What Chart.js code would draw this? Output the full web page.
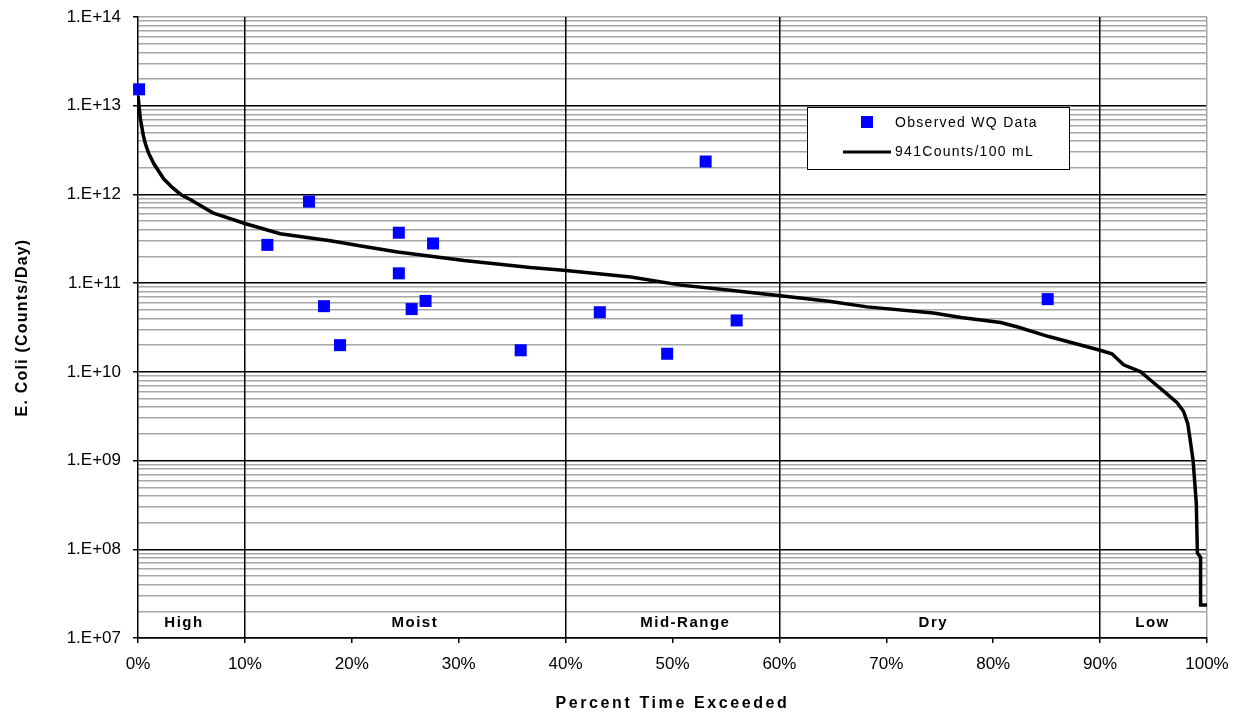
<!DOCTYPE html>
<html lang="en">
<head>
<meta charset="UTF-8">
<title>E. Coli Load Duration Curve</title>
<script src="https://cdn.jsdelivr.net/npm/chart.js"></script>
<style>
  body { margin: 0; background: #fff; }
</style>
</head>
<body>
<canvas id="ldc" width="1238" height="717"></canvas>
<script>
  // load duration curve at 941 counts/100 mL
  const curvePct = [0, 0.1, 0.2, 0.5, 0.7, 1.0, 1.5, 2.4, 3.2, 4.0, 5.0, 7.0, 10.0, 13.3, 18.0, 21.0,
    24.3, 30.5, 36.7, 39.8, 46.1, 50.8, 55.4, 60.1, 64.8, 68.2, 74.4, 77.0, 80.7, 82.3, 85.2,
    90.0, 91.1, 92.2, 93.8, 94.7, 96.0, 97.2, 97.8, 98.2, 98.4, 98.7, 99.0, 99.1, 99.4, 99.4, 100];
  const curveLoad = [1.3e13, 1.0e13, 7.4e12, 4.6e12, 3.7e12, 2.9e12, 2.2e12, 1.5e12, 1.2e12, 1.0e12, 8.6e11, 6.2e11, 4.7e11, 3.6e11, 3.0e11, 2.6e11,
    2.25e11, 1.8e11, 1.5e11, 1.4e11, 1.17e11, 9.5e10, 8.3e10, 7.2e10, 6.2e10, 5.4e10, 4.6e10, 4.1e10, 3.6e10, 3.2e10, 2.5e10,
    1.75e10, 1.6e10, 1.2e10, 1.0e10, 8.1e9, 6.0e9, 4.5e9, 3.6e9, 2.6e9, 1.8e9, 1.0e9, 3.3e8, 9.1e7, 8.1e7, 2.35e7, 2.35e7];

  // observed water quality samples
  const obsPct = [0.1, 12.1, 16.0, 17.4, 18.9, 24.4, 24.4, 25.6, 26.9, 27.6, 35.8, 43.2, 49.5, 53.1, 56.0, 85.1];
  const obsLoad = [1.53e13, 2.7e11, 8.3e11, 5.5e10, 2.0e10, 3.7e11, 1.29e11, 5.1e10, 6.3e10, 2.8e11, 1.75e10, 4.7e10, 1.6e10, 2.35e12, 3.8e10, 6.6e10];

  const seriesNames = ['Observed WQ Data', '941Counts/100 mL'];
  const zoneNames = ['High', 'Moist', 'Mid-Range', 'Dry', 'Low'];
  const zoneLabelPct = [4.3, 25.9, 51.2, 74.4, 94.9];
  const zoneBreaks = [10, 40, 60, 90];
  const yDecades = [1e7, 1e8, 1e9, 1e10, 1e11, 1e12, 1e13, 1e14];
  const yTickLabels = ['1.E+07', '1.E+08', '1.E+09', '1.E+10', '1.E+11', '1.E+12', '1.E+13', '1.E+14'];
  const xTitle = 'Percent Time Exceeded';
  const yTitle = 'E. Coli (Counts/Day)';

  const FONT = "Arial, 'Liberation Sans', sans-serif";
  const GRAY = '#a6a6a6';

  function isDecade(v) {
    return yDecades.some(d => Math.abs(v / d - 1) < 1e-9);
  }

  // zone names, legend box and axis titles
  const extras = {
    id: 'extras',
    afterDatasetsDraw(chart) {
      const { ctx, chartArea: ca, scales: { x } } = chart;
      ctx.save();
      ctx.fillStyle = '#000';
      ctx.textBaseline = 'middle';

      ctx.font = 'bold 15px ' + FONT;
      ctx.letterSpacing = '1.5px';
      ctx.textAlign = 'center';
      zoneNames.forEach((n, i) => {
        ctx.fillText(n, x.getPixelForValue(zoneLabelPct[i]), ca.bottom - 15);
      });

      // legend
      const lx = 807, ly = 107, lw = 262, lh = 62;
      ctx.fillStyle = '#fff';
      ctx.fillRect(lx, ly, lw, lh);
      ctx.strokeStyle = '#000';
      ctx.lineWidth = 1;
      ctx.strokeRect(lx + 0.5, ly + 0.5, lw, lh);
      const ds = chart.data.datasets;
      ctx.fillStyle = ds[0].backgroundColor;
      ctx.fillRect(861, 116, 12, 12);
      ctx.strokeStyle = ds[1].borderColor;
      ctx.lineWidth = 3;
      ctx.beginPath();
      ctx.moveTo(843, 152);
      ctx.lineTo(891, 152);
      ctx.stroke();
      ctx.fillStyle = '#000';
      ctx.font = '14px ' + FONT;
      ctx.letterSpacing = '1.3px';
      ctx.textAlign = 'left';
      ctx.fillText(ds[0].label, 895, 123);
      ctx.fillText(ds[1].label, 895, 152);

      // axis titles
      ctx.font = 'bold 16px ' + FONT;
      ctx.textAlign = 'center';
      ctx.letterSpacing = '2.6px';
      ctx.fillText(xTitle, (ca.left + ca.right) / 2, 704);
      ctx.letterSpacing = '1.2px';
      ctx.translate(23, (ca.top + ca.bottom) / 2);
      ctx.rotate(-Math.PI / 2);
      ctx.fillText(yTitle, 0, 0);
      ctx.restore();
    }
  };

  new Chart(document.getElementById('ldc'), {
    type: 'scatter',
    data: {
      datasets: [{
        label: seriesNames[0],
        data: obsPct.map((p, i) => ({ x: p, y: obsLoad[i] })),
        pointStyle: 'rect',
        pointRadius: 8.5,
        borderWidth: 0,
        backgroundColor: '#0000ff',
        borderColor: '#0000ff',
        clip: false
      }, {
        type: 'line',
        label: seriesNames[1],
        data: curvePct.map((p, i) => ({ x: p, y: curveLoad[i] })),
        borderColor: '#000',
        borderWidth: 3.5,
        pointRadius: 0,
        tension: 0,
        fill: false
      }]
    },
    options: {
      responsive: false,
      animation: false,
      layout: { padding: { left: 0, top: 17, right: 31, bottom: 0 } },
      plugins: { legend: { display: false }, tooltip: { enabled: false } },
      scales: {
        x: {
          type: 'linear',
          min: 0,
          max: 100,
          afterFit: s => {
            s.height = 79;
            s.paddingLeft = 0;
            s.paddingRight = 0;
          },
          ticks: {
            stepSize: 10,
            padding: 11,
            color: '#000',
            font: { family: FONT, size: 17 },
            callback: v => v + '%'
          },
          grid: {
            z: -1,
            tickLength: 5,
            lineWidth: 1.5,
            tickColor: '#000',
            tickWidth: 1.5,
            color: c => {
              const v = c.tick && c.tick.value;
              if (zoneBreaks.includes(v)) return '#000';
              if (v === 100) return GRAY;
              return 'rgba(0,0,0,0)';
            }
          },
          border: { color: '#000', width: 1.5 }
        },
        y: {
          type: 'logarithmic',
          min: 1e7,
          max: 1e14,
          afterFit: s => {
            s.width = 138;
            s.paddingTop = 0;
            s.paddingBottom = 0;
          },
          afterBuildTicks: s => {
            const t = [];
            for (let e = 7; e < 14; e++) {
              for (let m = 1; m < 10; m++) t.push({ value: m * Math.pow(10, e) });
            }
            t.push({ value: 1e14 });
            s.ticks = t;
          },
          ticks: {
            autoSkip: false,
            padding: 12,
            color: '#000',
            font: { family: FONT, size: 17 },
            callback: v => {
              const i = yDecades.findIndex(d => Math.abs(v / d - 1) < 1e-9);
              return i >= 0 ? yTickLabels[i] : '';
            }
          },
          grid: {
            z: -2, // horizontal lines sit under the zone dividers
            tickLength: 5,
            lineWidth: 1.5,
            tickWidth: 1.5,
            tickColor: c => (c.tick && isDecade(c.tick.value)) ? '#000' : 'rgba(0,0,0,0)',
            color: c => {
              const v = c.tick && c.tick.value;
              if (v === 1e14) return GRAY;
              return isDecade(v) ? '#000' : GRAY;
            }
          },
          border: { color: '#000', width: 1.5 }
        }
      }
    },
    plugins: [extras]
  });
</script>
</body>
</html>
